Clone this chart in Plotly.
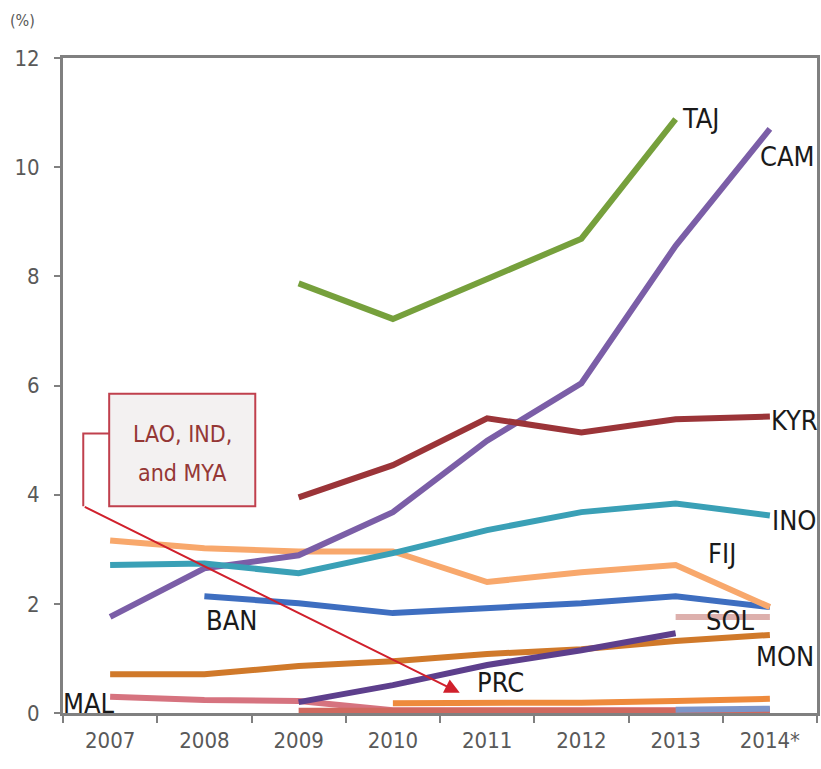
import plotly.graph_objects as go

# Categories (years) and series values, in percent
years = ["2007", "2008", "2009", "2010", "2011", "2012", "2013", "2014*"]

taj_years = ["2009", "2010", "2011", "2012", "2013"]
taj = [7.87, 7.22, 7.95, 8.69, 10.88]

cam = [1.76, 2.65, 2.89, 3.68, 4.99, 6.04, 8.56, 10.70]

kyr_years = ["2009", "2010", "2011", "2012", "2013", "2014*"]
kyr = [3.95, 4.54, 5.40, 5.14, 5.38, 5.43]

ino = [2.71, 2.74, 2.56, 2.93, 3.35, 3.68, 3.84, 3.62]

fij = [3.16, 3.02, 2.96, 2.96, 2.40, 2.58, 2.71, 1.94]

ban_years = ["2008", "2009", "2010", "2011", "2012", "2013", "2014*"]
ban = [2.14, 2.01, 1.83, 1.92, 2.01, 2.14, 1.94]

sol_years = ["2013", "2014*"]
sol = [1.76, 1.76]

prc_years = ["2009", "2010", "2011", "2012", "2013"]
prc = [0.20, 0.51, 0.88, 1.15, 1.46]

mon = [0.71, 0.71, 0.86, 0.95, 1.08, 1.17, 1.32, 1.43]

mal = [0.30, 0.24, 0.22, 0.05, 0.05, 0.05, 0.05, 0.05]

lao_years = ["2010", "2011", "2012", "2013", "2014*"]
lao = [0.18, 0.18, 0.19, 0.22, 0.26]

ind_years = ["2009", "2010", "2011", "2012", "2013", "2014*"]
ind = [0.04, 0.04, 0.04, 0.04, 0.04, 0.04]

mya_years = ["2013", "2014*"]
mya = [0.06, 0.08]

yticks = [0, 2, 4, 6, 8, 10, 12]

series = [
    ("MAL", years, mal, "#D6737F"),
    ("IND", ind_years, ind, "#D0685E"),
    ("MYA", mya_years, mya, "#7D95C9"),
    ("LAO", lao_years, lao, "#EE8A3C"),
    ("MON", years, mon, "#D0792A"),
    ("PRC", prc_years, prc, "#5D3F8C"),
    ("SOL", sol_years, sol, "#DDB0AD"),
    ("BAN", ban_years, ban, "#3E6EC0"),
    ("FIJ", years, fij, "#F8A86C"),
    ("CAM", years, cam, "#7B5EA7"),
    ("INO", years, ino, "#3AA0B6"),
    ("KYR", kyr_years, kyr, "#9B3438"),
    ("TAJ", taj_years, taj, "#76A03C"),
]

FONT = "DejaVu Sans Condensed, Liberation Sans Narrow, Arial Narrow, sans-serif"

fig = go.Figure()
for name, xs, ys, color in series:
    fig.add_trace(go.Scatter(
        x=xs, y=ys, mode="lines", name=name,
        line=dict(color=color, width=6),
        showlegend=False, hoverinfo="x+y+name",
    ))

label_font = dict(family=FONT, size=27, color="#1a1a1a")

# Series name labels placed beside their lines
labels = [
    ("TAJ", 6.27, 10.9),
    ("CAM", 7.19, 10.2),
    ("KYR", 7.26, 5.36),
    ("INO", 7.26, 3.53),
    ("FIJ", 6.49, 2.93),
    ("BAN", 1.29, 1.70),
    ("SOL", 6.58, 1.70),
    ("MON", 7.16, 1.04),
    ("PRC", 4.14, 0.55),
    ("MAL", -0.22, 0.18),
]
for text, lx, ly in labels:
    fig.add_annotation(x=lx, y=ly, text=text, showarrow=False, font=label_font,
                       xref="x", yref="y")

# Callout box for the near-zero series
box_color = "#C0404D"
fig.add_shape(type="rect", x0=-0.01, x1=1.54, y0=3.79, y1=5.85,
              xref="x", yref="y", line=dict(color=box_color, width=2),
              fillcolor="#F3F1F1", layer="above")
fig.add_shape(type="path", path="M -0.01 5.12 L -0.285 5.12 L -0.285 3.79",
              xref="x", yref="y", line=dict(color=box_color, width=2), layer="above")
fig.add_annotation(x=3.71, y=0.37, ax=-0.285, ay=3.79, axref="x", ayref="y",
                   xref="x", yref="y", text="", showarrow=True,
                   arrowhead=2, arrowsize=1.5, arrowwidth=2, arrowcolor="#D0202C")
callout_font = dict(family=FONT, size=23, color="#953735")
fig.add_annotation(x=0.765, y=5.12, text="LAO, IND,", showarrow=False, font=callout_font,
                   xref="x", yref="y")
fig.add_annotation(x=0.765, y=4.40, text="and MYA", showarrow=False, font=callout_font,
                   xref="x", yref="y")

# Unit label above the value axis
fig.add_annotation(x=0, y=1, xref="paper", yref="paper", text="(%)", showarrow=False,
                   xanchor="center", yanchor="middle", xshift=-41, yshift=38,
                   font=dict(family=FONT, size=16, color="#595959"))

tick_font = dict(family=FONT, size=22, color="#595959")

fig.update_layout(
    width=821, height=769,
    margin=dict(l=63, r=1, t=58, b=56),
    paper_bgcolor="white", plot_bgcolor="white",
    showlegend=False,
)
fig.update_xaxes(
    type="category", categoryorder="array", categoryarray=years,
    range=[-0.5, 7.5], tickson="boundaries", ticks="outside", ticklen=7,
    tickcolor="#808080", tickwidth=1.5, ticklabelstandoff=6,
    showline=True, linecolor="#808080", linewidth=2.5, mirror=True,
    showgrid=False, zeroline=False, tickfont=tick_font, layer="below traces",
)
fig.update_yaxes(
    range=[0, 12], tickvals=yticks, ticks="outside", ticklen=6,
    tickcolor="#808080", tickwidth=1.5, ticklabelstandoff=10,
    showline=True, linecolor="#808080", linewidth=3, mirror=True,
    showgrid=False, zeroline=False, tickfont=tick_font, layer="below traces",
)

fig.write_html("out.html")
